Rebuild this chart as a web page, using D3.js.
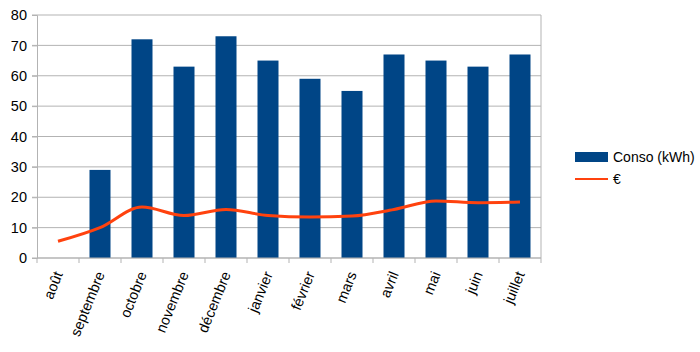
<!DOCTYPE html>
<html>
<head>
<meta charset="utf-8">
<script src="https://cdn.jsdelivr.net/npm/d3@7"></script>
<style>
  body { margin: 0; background: #fff; }
  svg { display: block; font-family: "Liberation Sans", Arial, sans-serif; }
</style>
</head>
<body>
<div id="graf"></div>
<script>
// donnees
const mois = ["août", "septembre", "octobre", "novembre", "décembre", "janvier", "février", "mars", "avril", "mai", "juin", "juillet"];
const conso = [0, 29, 72, 63, 73, 65, 59, 55, 67, 65, 63, 67];
const euros = [5.5, 10, 16.8, 14, 16, 14, 13.5, 13.8, 16, 18.8, 18.2, 18.4];
const yTicks = [0, 10, 20, 30, 40, 50, 60, 70, 80];

const W = 700, H = 352;
const margin = { top: 15, right: 159, bottom: 94, left: 37 };
const w = W - margin.left - margin.right;
const h = H - margin.top - margin.bottom;

const svg = d3.select("#graf").append("svg").attr("width", W).attr("height", H);
const g = svg.append("g").attr("transform", `translate(${margin.left},${margin.top})`);

const x = d3.scaleBand().domain(mois).range([0, w]);
const y = d3.scaleLinear().domain([0, 80]).range([h, 0]);

// grille
g.append("g")
  .selectAll("line")
  .data(yTicks)
  .join("line")
  .attr("x1", -5).attr("x2", w)
  .attr("y1", d => y(d)).attr("y2", d => y(d))
  .attr("stroke", "#b3b3b3");

g.append("line").attr("x1", w).attr("x2", w).attr("y1", 0).attr("y2", h).attr("stroke", "#b3b3b3");

// axe y
const yAxis = g.append("g")
  .call(d3.axisLeft(y).tickValues(yTicks).tickSize(5).tickPadding(5));
yAxis.select(".domain").attr("stroke", "#b3b3b3");
yAxis.selectAll(".tick line").attr("stroke", "#b3b3b3");
yAxis.selectAll("text").attr("font-size", 14.5).attr("fill", "#000").attr("font-family", "Liberation Sans, Arial, sans-serif");

// barres
g.selectAll("rect.bar")
  .data(mois.map((m, i) => ({ m, v: conso[i] })).filter(d => d.v > 0))
  .join("rect")
  .attr("class", "bar")
  .attr("x", d => x(d.m) + x.bandwidth() * 0.25)
  .attr("width", x.bandwidth() * 0.5)
  .attr("y", d => y(d.v))
  .attr("height", d => h - y(d.v))
  .attr("fill", "#004586");

// axe x
const xAxis = g.append("g").attr("transform", `translate(0,${h})`);
xAxis.append("line").attr("x1", 0).attr("x2", w).attr("stroke", "#b3b3b3");
xAxis.selectAll("line.tk")
  .data(d3.range(mois.length + 1))
  .join("line")
  .attr("class", "tk")
  .attr("x1", i => i * x.step()).attr("x2", i => i * x.step())
  .attr("y1", 0).attr("y2", 5)
  .attr("stroke", "#b3b3b3");
xAxis.selectAll("text")
  .data(mois)
  .join("text")
  .attr("transform", d => `translate(${x(d) + x.bandwidth() / 2 + 5},${16}) rotate(-68)`)
  .attr("text-anchor", "end")
  .attr("font-size", 14.5)
  .text(d => d);

// ligne €
const line = d3.line()
  .x((d, i) => x(mois[i]) + x.bandwidth() / 2)
  .y(d => y(d))
  .curve(d3.curveMonotoneX);
g.append("path")
  .datum(euros)
  .attr("d", line)
  .attr("fill", "none")
  .attr("stroke", "#ff420e")
  .attr("stroke-width", 3);

// legende
const leg = svg.append("g").attr("transform", "translate(575,152)");
leg.append("rect").attr("width", 33).attr("height", 10).attr("fill", "#004586");
leg.append("text").attr("x", 38).attr("y", 10).attr("font-size", 14).text("Conso (kWh)");
leg.append("line").attr("x1", 0).attr("x2", 33).attr("y1", 27).attr("y2", 27).attr("stroke", "#ff420e").attr("stroke-width", 2);
leg.append("text").attr("x", 38).attr("y", 32).attr("font-size", 14).text("€");
</script>
</body>
</html>
